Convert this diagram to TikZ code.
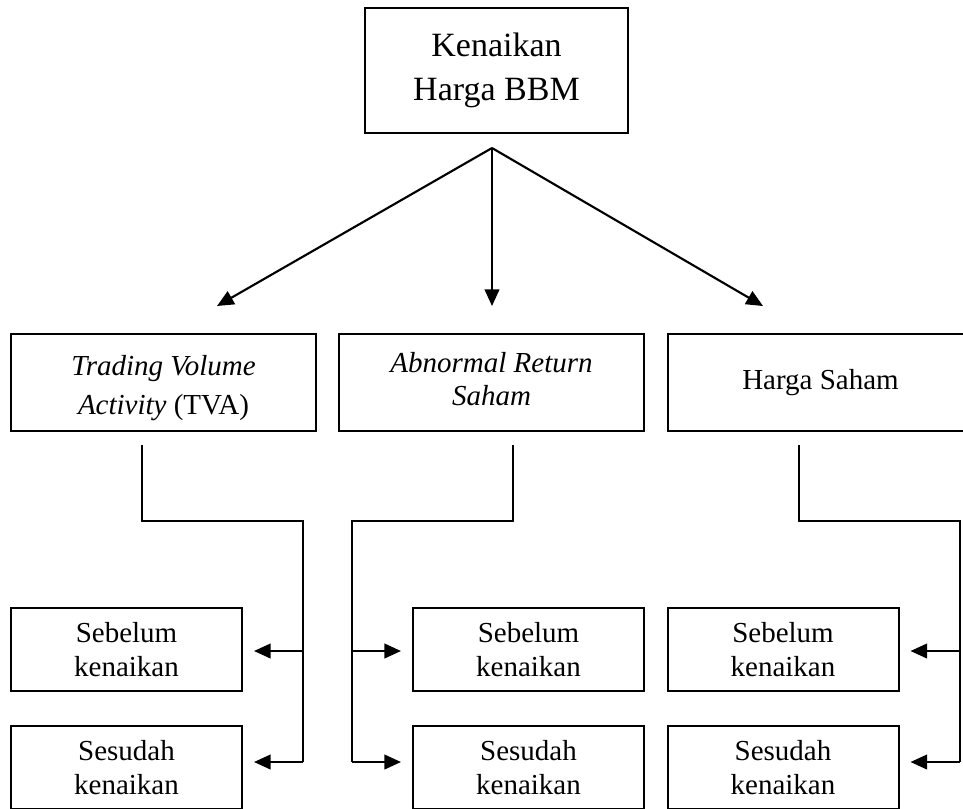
\documentclass[tikz,border=0pt]{standalone}
\usepackage{fontspec}
\setmainfont{Liberation Serif}
\usetikzlibrary{arrows.meta}
\begin{document}
\begin{tikzpicture}[x=0.75pt,y=-0.75pt,
  box/.style={draw,line width=1.5pt,inner sep=0pt,align=center,rectangle},
  topbox/.style={box,minimum width=197.25pt,minimum height=93.75pt,font=\fontsize{25.5}{32.6}\selectfont},
  midbox/.style={box,minimum width=228.75pt,minimum height=72.75pt},
  lowbox/.style={box,minimum width=173.25pt,minimum height=62.25pt,font=\fontsize{21.75}{25.5}\selectfont},
  conn/.style={line width=1.6pt},
  arr/.style={line width=1.6pt,-{Triangle[length=12.5pt,width=11pt]}},
  gap/.style={shorten >=8.25pt}
]
\clip (0,0) rectangle (963,808);
% boxes
\node[topbox] (top) at (496.5,70.5) {Kenaikan\\Harga BBM};
\node[midbox,font=\fontsize{21.75}{29.25}\selectfont] (tva) at (163.5,382.5)
  {\rule{0pt}{23.9pt}\textit{Trading Volume}\\\textit{Activity} (TVA)};
\node[midbox,font=\fontsize{21.75}{24.75}\selectfont] (ar) at (491.5,382.5)
  {\textit{Abnormal Return}\\\textit{Saham}\rule[-5.2pt]{0pt}{0pt}};
\node[midbox,font=\fontsize{21.75}{25.5}\selectfont] (hs) at (820.5,382.5) {Harga Saham};
\node[lowbox] (sb1) at (126.5,649.5) {Sebelum\\kenaikan};
\node[lowbox] (ss1) at (126.5,767.5) {Sesudah\\kenaikan};
\node[lowbox] (sb2) at (528.5,649.5) {Sebelum\\kenaikan};
\node[lowbox] (ss2) at (528.5,767.5) {Sesudah\\kenaikan};
\node[lowbox] (sb3) at (783,649.5) {Sebelum\\kenaikan};
\node[lowbox] (ss3) at (783,767.5) {Sesudah\\kenaikan};
% top arrows
\coordinate (o) at (492,148);
\coordinate (tL) at (217,306);
\coordinate (tM) at (492,306);
\coordinate (tR) at (763,306);
\draw[arr] (o) -- (tL);
\draw[arr] (o) -- (tM);
\draw[arr] (o) -- (tR);
% left branch
\coordinate (a1) at (142,445);
\coordinate (c1) at (303,521);
\coordinate (m1) at (303,651);
\coordinate (d1) at (303,762);
\draw[conn] (a1) |- (c1) -- (d1);
\draw[arr,gap] (m1) -- (sb1.east |- m1);
\draw[arr,gap] (d1) -- (ss1.east |- d1);
% middle branch
\coordinate (a2) at (513,445);
\coordinate (c2) at (352,521);
\coordinate (m2) at (352,651);
\coordinate (d2) at (352,762);
\draw[conn] (a2) |- (c2) -- (d2);
\draw[arr,gap] (m2) -- (sb2.west |- m2);
\draw[arr,gap] (d2) -- (ss2.west |- d2);
% right branch
\coordinate (a3) at (799,445);
\coordinate (c3) at (960,521);
\coordinate (m3) at (960,651);
\coordinate (d3) at (960,762);
\draw[conn] (a3) |- (c3) -- (d3);
\draw[arr,gap] (m3) -- (sb3.east |- m3);
\draw[arr,gap] (d3) -- (ss3.east |- d3);
\end{tikzpicture}
\end{document}
